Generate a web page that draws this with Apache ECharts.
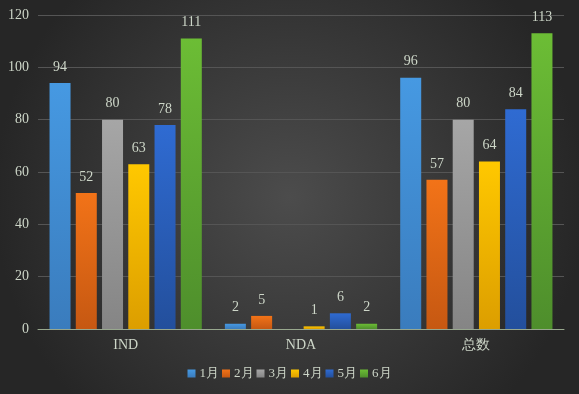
<!DOCTYPE html>
<html><head><meta charset="utf-8">
<script src="https://cdn.jsdelivr.net/npm/echarts@6/dist/echarts.min.js"></script>
<style>html,body{margin:0;padding:0;}#c{width:579px;height:394px;}</style>
</head><body><div id="c"></div>
<script>
var categories = ['IND', 'NDA', '总数'];
var seriesNames = ['1月', '2月', '3月', '4月', '5月', '6月'];
var m1 = [94, 2, 96];
var m2 = [52, 5, 57];
var m3 = [80, 0, 80];
var m4 = [63, 1, 64];
var m5 = [78, 6, 84];
var m6 = [111, 2, 113];
var values = [m1, m2, m3, m4, m5, m6];
var yTicks = [0, 20, 40, 60, 80, 100, 120];

var colors = [['#4699e2', '#3a7cbd'], ['#f27318', '#c65812'], ['#a6a6a6', '#858585'],
  ['#ffc800', '#dc9e00'], ['#2f6bd2', '#234f9c'], ['#6cbd35', '#4e8e2c']];
var txt = '#cdd6c8';
var fontFam = 'Liberation Serif, serif';
var chart = echarts.init(document.getElementById('c'));
var series = seriesNames.map(function (n, i) {
  return {
    name: n, type: 'bar', data: values[i].map(function (v) { return v === 0 ? null : v; }),
    barWidth: 21, barGap: '25%', barCategoryGap: '10%',
    itemStyle: { color: new echarts.graphic.LinearGradient(0, 0, 0, 1, [{ offset: 0, color: colors[i][0] }, { offset: 1, color: colors[i][1] }]) },
    label: { show: true, position: 'top', distance: 9, color: txt, fontFamily: fontFam, fontSize: 14 }
  };
});
chart.setOption({
  backgroundColor: { type: 'radial', x: 0.5, y: 0.5, r: 0.75, colorStops: [{ offset: 0, color: '#4c4c4c' }, { offset: 1, color: '#262626' }] },
  color: colors.map(function (c) { return c[0]; }),
  grid: { left: 38, right: 15, top: 15, bottom: 65 },
  legend: { bottom: 9, itemWidth: 8, itemHeight: 8, itemGap: 3, icon: 'rect',
    textStyle: { color: txt, fontFamily: fontFam, fontSize: 13, padding: [0, 0, 0, -1] }, data: seriesNames },
  xAxis: { type: 'category', data: categories,
    axisLine: { lineStyle: { color: '#98a88e' } }, axisTick: { show: false },
    axisLabel: { color: txt, fontFamily: fontFam, fontSize: 14, margin: 9 } },
  yAxis: { type: 'value', min: yTicks[0], max: yTicks[yTicks.length - 1], interval: 20,
    axisLine: { show: false }, axisTick: { show: false },
    splitLine: { lineStyle: { color: '#555555' } },
    axisLabel: { color: txt, fontFamily: fontFam, fontSize: 14, margin: 9 } },
  series: series
});
</script></body></html>
